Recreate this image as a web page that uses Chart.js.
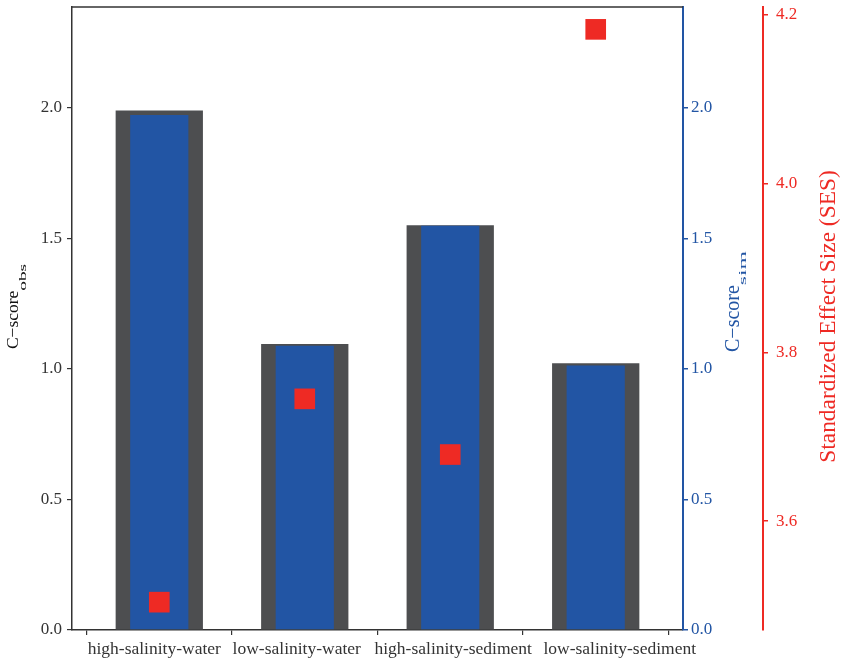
<!DOCTYPE html>
<html>
<head>
<meta charset="utf-8">
<script src="https://cdn.jsdelivr.net/npm/chart.js@4/dist/chart.umd.min.js"></script>
<style>
  body { margin: 0; background: #fff; }
  #grafica { display: block; }
</style>
</head>
<body>
<canvas id="grafica"></canvas>
<script>
// data
const categories = ["high-salinity-water", "low-salinity-water", "high-salinity-sediment", "low-salinity-sediment"];
const cscoreObs = [1.99, 1.096, 1.551, 1.022];
const cscoreSim = [1.973, 1.089, 1.549, 1.013];
const sesValues = [3.504, 3.745, 3.679, 4.183];
const cscoreTicks = [0, 0.5, 1.0, 1.5, 2.0];
const sesTicks = [3.6, 3.8, 4.0, 4.2];

const FONT = "Liberation Serif";
const GRAY = "#4d4e50";
const BLUE = "#2255a4";
const RED = "#ee2a24";
const INK = "#333333";

const canvas = document.getElementById("grafica");
canvas.width = 851;
canvas.height = 666;
const ctx = canvas.getContext("2d");

const toPoints = (vals) => vals.map((v, i) => ({ x: i, y: v }));
const fixTicks = (list) => (scale) => { scale.ticks = list.map((v) => ({ value: v })); };
const noPad = (w) => (s) => {
  s.width = w;
  s.paddingTop = 0;
  s.paddingBottom = 0;
};

// in the original the category labels are nudged sideways so they don't collide
const labelShift = [-5, -8, 3, 24];

// top frame line, x labels and axis titles with subscripts
const extras = {
  id: "extras",
  afterDraw(chart) {
    const c = chart.ctx;
    const a = chart.chartArea;
    const xs = chart.scales.x;
    c.save();
    c.strokeStyle = INK;
    c.lineWidth = 1.5;
    c.beginPath();
    c.moveTo(a.left, a.top);
    c.lineTo(a.right, a.top);
    c.stroke();

    c.fillStyle = INK;
    c.font = "17.5px '" + FONT + "'";
    c.textAlign = "center";
    c.textBaseline = "alphabetic";
    categories.forEach((lab, i) => {
      c.fillText(lab, xs.getPixelForValue(i) + labelShift[i], 654);
    });

    function vTitle(x, yc, main, size, sub, subSize, stretch, drop, color) {
      c.save();
      c.fillStyle = color;
      c.font = size + "px '" + FONT + "'";
      const w1 = c.measureText(main).width;
      c.font = subSize + "px '" + FONT + "'";
      const w2 = sub ? c.measureText(sub).width * stretch : 0;
      c.translate(x, yc);
      c.rotate(-Math.PI / 2);
      c.textBaseline = "alphabetic";
      c.textAlign = "left";
      const start = -(w1 + w2) / 2;
      c.font = size + "px '" + FONT + "'";
      c.fillText(main, start, 0);
      if (sub) {
        c.font = subSize + "px '" + FONT + "'";
        c.translate(start + w1, drop);
        c.scale(stretch, 1);
        c.fillText(sub, 0, 0);
      }
      c.restore();
    }
    vTitle(18, 306.5, "C\u2212score", 17.5, "obs", 11, 1.75, 8, "#111");
    vTitle(739, 301.5, "C\u2212score", 20, "sim", 11, 2.15, 7, BLUE);
    vTitle(835, 316.5, "Standardized Effect Size (SES)", 23.4, "", 0, 1, 0, RED);
    c.restore();
  }
};

const chart = new Chart(ctx, {
  type: "bar",
  data: {
    datasets: [
      {
        type: "line",
        label: "SES",
        data: toPoints(sesValues),
        yAxisID: "ySes",
        showLine: false,
        pointStyle: "rect",
        pointRadius: 14.6,
        pointBorderWidth: 0,
        pointBackgroundColor: RED,
        pointBorderColor: RED,
        order: 0
      },
      {
        label: "C-score sim",
        data: toPoints(cscoreSim),
        yAxisID: "ySim",
        backgroundColor: BLUE,
        grouped: false,
        categoryPercentage: 1,
        barPercentage: 0.4,
        order: 1
      },
      {
        label: "C-score obs",
        data: toPoints(cscoreObs),
        yAxisID: "y",
        backgroundColor: GRAY,
        grouped: false,
        categoryPercentage: 1,
        barPercentage: 0.6,
        order: 2
      }
    ]
  },
  options: {
    responsive: false,
    animation: false,
    layout: { autoPadding: false, padding: { top: 7, left: 0, right: 0, bottom: 0 } },
    plugins: {
      legend: { display: false },
      tooltip: { enabled: false }
    },
    scales: {
      x: {
        type: "linear",
        position: "bottom",
        min: -0.6,
        max: 3.6,
        offset: false,
        afterBuildTicks: fixTicks(categories.map((c, i) => i)),
        afterFit: (s) => { s.height = 36; s.paddingLeft = 0; s.paddingRight = 0; },
        grid: { display: true, drawOnChartArea: false, drawTicks: true, tickLength: 5, color: INK, lineWidth: 1.2 },
        border: { display: true, color: INK, width: 1.5 },
        ticks: { display: false }
      },
      y: {
        type: "linear",
        position: "left",
        min: 0,
        max: 2.387,
        afterBuildTicks: fixTicks(cscoreTicks),
        afterFit: noPad(72),
        grid: { display: true, drawOnChartArea: false, drawTicks: true, tickLength: 5, color: INK, lineWidth: 1.2 },
        border: { display: true, color: INK, width: 1.5 },
        ticks: {
          padding: 5,
          color: INK,
          font: { family: FONT, size: 17 },
          callback: (v) => v.toFixed(1)
        }
      },
      ySim: {
        type: "linear",
        position: "right",
        min: 0,
        max: 2.387,
        afterBuildTicks: fixTicks(cscoreTicks),
        afterFit: noPad(80),
        grid: { display: true, drawOnChartArea: false, drawTicks: true, tickLength: 5, color: BLUE, lineWidth: 1.5 },
        border: { display: true, color: BLUE, width: 2 },
        ticks: {
          padding: 3,
          color: BLUE,
          font: { family: FONT, size: 17 },
          callback: (v) => v.toFixed(1)
        }
      },
      ySes: {
        type: "linear",
        position: "right",
        min: 3.471,
        max: 4.2095,
        afterBuildTicks: fixTicks(sesTicks),
        afterFit: noPad(88),
        grid: { display: true, drawOnChartArea: false, drawTicks: true, tickLength: 5, color: RED, lineWidth: 1.5 },
        border: { display: true, color: RED, width: 2 },
        ticks: {
          padding: 8,
          color: RED,
          font: { family: FONT, size: 17 },
          callback: (v) => v.toFixed(1)
        }
      }
    }
  },
  plugins: [extras]
});
</script>
</body>
</html>
